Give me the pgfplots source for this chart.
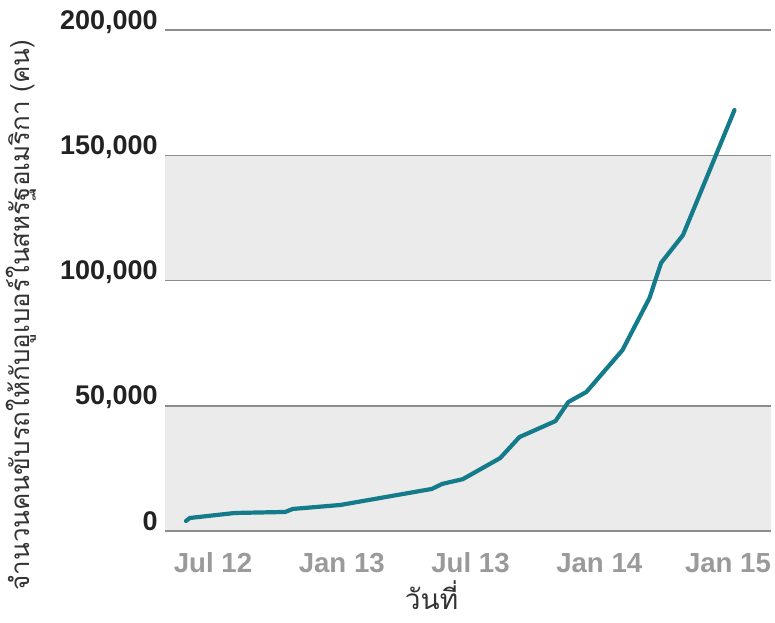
\documentclass[border=0pt]{standalone}
\usepackage{fontspec}
\setmainfont{Liberation Sans}
\newfontfamily\thaifont[Script=Thai]{Loma}
\usepackage{pgfplots}
\pgfplotsset{compat=1.18}
\definecolor{uberline}{HTML}{137B8A}
\definecolor{bandgray}{HTML}{EBEBEB}
\definecolor{gridgray}{HTML}{8C8C8C}
\definecolor{xtext}{HTML}{9A9A9A}
\definecolor{ytext}{HTML}{222222}
\definecolor{labeltext}{HTML}{333333}
\begin{document}
\begin{tikzpicture}
\begin{axis}[
    set layers,
    scale only axis,
    width=303pt,
    height=250.5pt,
    xmin=-0.373, xmax=4.334,
    ymin=0, ymax=200000,
    axis line style={draw=none},
    tick style={draw=none},
    xtick={0,1,2,3,4},
    xticklabels={Jul 12, Jan 13, Jul 13, Jan 14, Jan 15},
    ytick={0,50000,100000,150000,200000},
    scaled y ticks=false,
    yticklabel style={/pgf/number format/fixed, /pgf/number format/1000 sep={,},
        /pgf/number format/assume math mode=true,
        font=\bfseries\fontsize{13.5}{16}\selectfont, text=ytext,
        anchor=base east, inner sep=0pt, xshift=-3.5pt, yshift=0.5pt},
    ymajorgrids,
    grid style={line width=0.75pt, gridgray},
    xticklabel style={font=\bfseries\fontsize{13.8}{16}\selectfont, text=xtext,
        anchor=base, inner sep=0pt, yshift=-20.5pt},
    ylabel={\thaifont จำนวนคนขับรถให้กับอูเบอร์ในสหรัฐอเมริกา (คน)},
    ylabel style={at={(rel axis cs:-0.2228,0.431)}, anchor=base,
        font=\fontsize{13}{15}\selectfont, text=labeltext, inner sep=0pt},
    xlabel={\thaifont วันที่},
    xlabel style={at={(rel axis cs:0.44,-0.156)}, anchor=base,
        font=\fontsize{14}{17}\selectfont, text=labeltext, inner sep=0pt},
]
% alternating bands
\addplot[fill=bandgray, draw=none, on layer=axis background] coordinates {
    (-0.373,0) (4.334,0) (4.334,50000) (-0.373,50000) (-0.373,0)};
\addplot[fill=bandgray, draw=none, on layer=axis background] coordinates {
    (-0.373,100000) (4.334,100000) (4.334,150000) (-0.373,150000) (-0.373,100000)};
% drivers
\addplot[uberline, line width=2.1pt, line join=round, line cap=round] coordinates {
    (-0.21,4000) (-0.18,5200) (0.17,7200) (0.56,7600) (0.62,8800) (0.99,10400)
    (1.70,16800) (1.78,18800) (1.94,20700) (2.23,29100) (2.38,37500)
    (2.66,43900) (2.76,51500) (2.90,55500) (3.18,72200) (3.39,93000)
    (3.48,107000) (3.65,118100) (4.05,168000)
};
\end{axis}
\path (-82.5pt,-45.5pt) rectangle (305pt,265.5pt);
\end{tikzpicture}
\end{document}
